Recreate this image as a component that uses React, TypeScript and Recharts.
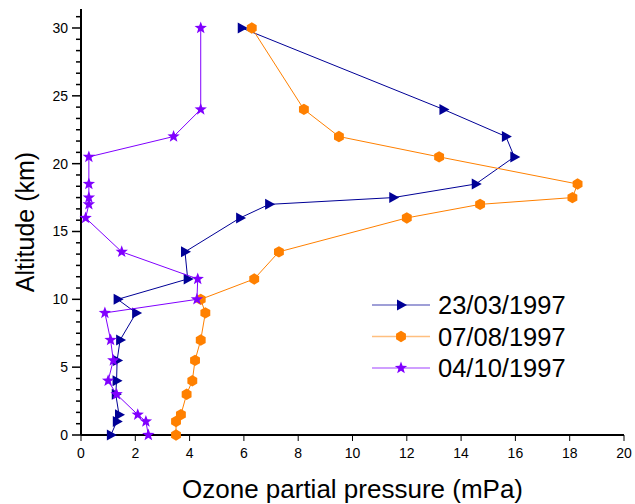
import { ScatterChart, Scatter, XAxis, YAxis, Legend } from "recharts";

// altitude levels (km), shared by all three soundings
const altitude = [0, 1, 1.5, 3, 4, 5.5, 7, 9, 10, 11.5, 13.5, 16, 17, 17.5, 18.5, 20.5, 22, 24, 30];

// ozone partial pressure (mPa) at each level
const march = [1.1, 1.32, 1.4, 1.28, 1.31, 1.33, 1.44, 2.03, 1.35, 3.93, 3.83, 5.86, 6.93, 11.5, 14.54, 15.96, 15.65, 13.35, 5.92];
const august = [3.5, 3.5, 3.68, 3.89, 4.1, 4.2, 4.41, 4.58, 4.41, 6.38, 7.29, 12.0, 14.7, 18.1, 18.29, 13.19, 9.5, 8.21, 6.29];
const october = [2.48, 2.39, 2.09, 1.31, 1.0, 1.19, 1.09, 0.88, 4.27, 4.3, 1.5, 0.17, 0.29, 0.29, 0.29, 0.29, 3.41, 4.41, 4.41];

const xTicks = [0, 2, 4, 6, 8, 10, 12, 14, 16, 18, 20];
const yMajor = [0, 5, 10, 15, 20, 25, 30];
// minor ticks: 6 intervals per major step, one extra above 30
const yMinor: number[] = [];
for (let k = 1; k <= 37; k++) {
  if (k % 6 !== 0) yMinor.push(Math.round(((k * 5) / 6) * 1000) / 1000);
}
const yTicks = [...yMajor, ...yMinor].sort((a, b) => a - b);

const BLUE = "#000096";
const ORANGE = "#FF8000";
const PURPLE = "#8000FF";

const toPoints = (xs: number[]) => xs.map((x, i) => ({ x, y: altitude[i] }));

const Tri = ({ cx, cy, fill }: any) => (
  <polygon points={`${cx - 4},${cy - 5.5} ${cx + 6},${cy} ${cx - 4},${cy + 5.5}`} fill={fill} />
);

const Hex = ({ cx, cy, fill }: any) => {
  const r = 5.7;
  const pts = [0, 1, 2, 3, 4, 5]
    .map((i) => {
      const a = (Math.PI / 3) * i - Math.PI / 2;
      return `${cx + r * Math.cos(a)},${cy + r * Math.sin(a)}`;
    })
    .join(" ");
  return <polygon points={pts} fill={fill} />;
};

const Star = ({ cx, cy, fill }: any) => {
  const pts = [];
  for (let i = 0; i < 10; i++) {
    const r = i % 2 === 0 ? 6.5 : 2.7;
    const a = (Math.PI / 5) * i - Math.PI / 2;
    pts.push(`${cx + r * Math.cos(a)},${cy + r * Math.sin(a)}`);
  }
  return <polygon points={pts.join(" ")} fill={fill} />;
};

const YTick = (props: any) => {
  const { x, y, payload } = props;
  const major = yMajor.includes(payload.value);
  const len = major ? 9 : 5;
  return (
    <g>
      <line x1={x} x2={x - len} y1={y} y2={y} stroke="#000" strokeWidth={1.5} />
      {major && (
        <text x={x - len - 4} y={y} dy={5} textAnchor="end" fontSize={14} fill="#000">
          {payload.value}
        </text>
      )}
    </g>
  );
};

const legendRows = [
  { name: "23/03/1997", color: BLUE, Shape: Tri },
  { name: "07/08/1997", color: ORANGE, Shape: Hex },
  { name: "04/10/1997", color: PURPLE, Shape: Star },
];

const LegendBox = () => (
  <svg width={230} height={95}>
    {legendRows.map((r, i) => {
      const cy = 15 + i * 31.5;
      return (
        <g key={r.name}>
          <line x1={0} x2={58} y1={cy} y2={cy} stroke={r.color} strokeWidth={1.5} strokeOpacity={0.5} />
          <r.Shape cx={29} cy={cy} fill={r.color} />
          <text x={66} y={cy} dy={9} fontSize={25.5} fill="#000">
            {r.name}
          </text>
        </g>
      );
    })}
  </svg>
);

const YTitle = ({ viewBox }: any) => {
  const cx = viewBox.x + 25;
  const cy = viewBox.y + viewBox.height / 2;
  return (
    <text x={cx} y={cy} dy={9} transform={`rotate(-90 ${cx} ${cy})`} textAnchor="middle" fontSize={25} fill="#000">
      Altitude (km)
    </text>
  );
};

export default function App() {
  return (
    <div style={{ width: 635, height: 504, fontFamily: "'Liberation Sans', Arial, sans-serif", background: "#fff" }}>
      <style>{"body{margin:0}"}</style>
      <ScatterChart width={635} height={504} margin={{ top: 9, right: 11, bottom: 0, left: 0 }}>
        <XAxis
          type="number"
          dataKey="x"
          domain={[0, 20]}
          ticks={xTicks}
          interval={0}
          height={69}
          tickSize={6}
          tickMargin={7}
          stroke="#000"
          tick={{ fontSize: 14, fill: "#000" }}
          axisLine={{ strokeWidth: 2 }}
          label={{ value: "Ozone partial pressure (mPa)", position: "insideBottom", offset: 6, fontSize: 26, fill: "#000" }}
        />
        <YAxis
          type="number"
          dataKey="y"
          domain={[0, 31.4]}
          ticks={yTicks}
          interval={0}
          width={81}
          tickSize={0}
          tickMargin={0}
          tickLine={false}
          stroke="#000"
          tick={<YTick />}
          axisLine={{ strokeWidth: 2 }}
          label={{ content: <YTitle /> }}
        />
        <Legend
          layout="vertical"
          align="center"
          verticalAlign="middle"
          wrapperStyle={{ left: 372, top: 290, width: 230 }}
          content={() => <LegendBox />}
        />
        <Scatter
          name="23/03/1997"
          data={toPoints(march)}
          fill={BLUE}
          line={{ stroke: BLUE, strokeWidth: 1 }}
          lineType="joint"
          shape={<Tri />}
          isAnimationActive={false}
        />
        <Scatter
          name="07/08/1997"
          data={toPoints(august)}
          fill={ORANGE}
          line={{ stroke: ORANGE, strokeWidth: 1 }}
          lineType="joint"
          shape={<Hex />}
          isAnimationActive={false}
        />
        <Scatter
          name="04/10/1997"
          data={toPoints(october)}
          fill={PURPLE}
          line={{ stroke: PURPLE, strokeWidth: 1 }}
          lineType="joint"
          shape={<Star />}
          isAnimationActive={false}
        />
      </ScatterChart>
    </div>
  );
}
